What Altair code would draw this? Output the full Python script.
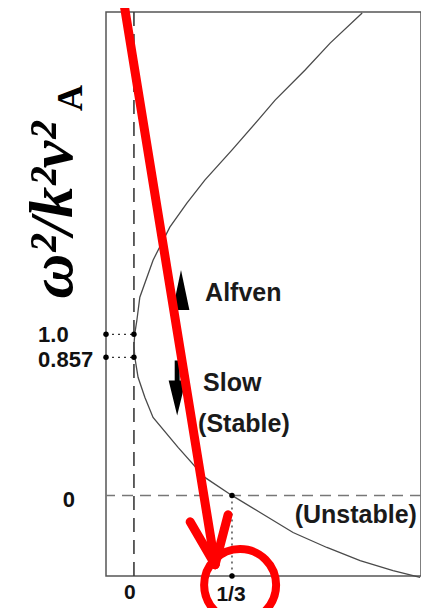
import altair as alt
import pandas as pd

# ---- data ----
curve_x = [0.776, 0.667, 0.582, 0.480, 0.422, 0.333, 0.241, 0.180, 0.122, 0.065,
           0.020, 0.010, 0.003, 0.000, 0.003, 0.014, 0.037, 0.065, 0.150, 0.241,
           0.333, 0.429, 0.541, 0.656, 0.769, 0.881, 0.973]
curve_y = [2.994, 2.807, 2.640, 2.453, 2.329, 2.143, 1.957, 1.814, 1.665, 1.460,
           1.230, 1.087, 1.006, 0.930, 0.857, 0.733, 0.609, 0.484, 0.298, 0.112,
           0.000, -0.106, -0.230, -0.323, -0.404, -0.466, -0.509]

x_domain = [-0.095, 0.976]
y_domain = [-0.5, 3.0]

marker_x = [-0.095, 0.0, -0.095, 0.0, 1 / 3, 1 / 3]
marker_y = [1.0, 1.0, 0.857, 0.857, 0.0, -0.5]

dotted_x = [-0.095, -0.095, 1 / 3]
dotted_x2 = [0.0, 0.0, 1 / 3]
dotted_y = [1.0, 0.857, 0.0]
dotted_y2 = [1.0, 0.857, -0.5]

ytick_text = ["1.0", "0.857", "0"]
ytick_x = [-0.326, -0.326, -0.221]
ytick_y = [1.0, 0.857, 0.0]
ytick_align = ["left", "left", "center"]
ytick_dy = [1, 3, 5]

xtick_text = ["0", "1/3"]
xtick_x = [0.0, 1 / 3]
xtick_dx = [-4, -1]
xtick_dy = [17, 19]

label_text = ["Alfven", "Slow", "(Stable)", "(Unstable)"]
label_x = [0.242, 0.235, 0.218, 0.962]
label_y = [1.256, 0.698, 0.443, -0.122]
label_align = ["left", "left", "left", "right"]

arrow_x = [0.160, 0.147]
arrow_y = [1.275, 0.667]
arrow_kind = ["up", "down"]

red_x = [-0.037, 0.191, 0.320]
red_y = [3.087, -0.164, -0.120]
red_tip_x = 0.276
red_tip_y = -0.43
circle_x = [0.361]
circle_y = [-0.556]

title_main = "ω²/k²v²"
title_sub = "A"

# ---- tables ----
curve = pd.DataFrame({"i": range(len(curve_x)), "x": curve_x, "y": curve_y})
markers = pd.DataFrame({"x": marker_x, "y": marker_y})
dotted = pd.DataFrame({"x": dotted_x, "x2": dotted_x2, "y": dotted_y, "y2": dotted_y2})
yticks = pd.DataFrame({"t": ytick_text, "x": ytick_x, "y": ytick_y,
                       "a": ytick_align, "dy": ytick_dy})
xticks = pd.DataFrame({"t": xtick_text, "x": xtick_x, "y": [y_domain[0]] * 2,
                       "dx": xtick_dx, "dy": xtick_dy})
labels = pd.DataFrame({"t": label_text, "x": label_x, "y": label_y, "a": label_align})
arrows = pd.DataFrame({"x": arrow_x, "y": arrow_y, "k": arrow_kind})
red = pd.DataFrame({"x": red_x, "y": red_y,
                    "x2": [red_tip_x] * 3, "y2": [red_tip_y] * 3})
circ = pd.DataFrame({"x": circle_x, "y": circle_y})
ttl = pd.DataFrame({"t": [title_main], "x": [-0.2105], "y": [1.77]})
sub = pd.DataFrame({"t": [title_sub], "x": [-0.175], "y": [2.467]})

X = alt.X("x:Q", scale=alt.Scale(domain=x_domain, nice=False, zero=False), axis=None)
Y = alt.Y("y:Q", scale=alt.Scale(domain=y_domain, nice=False, zero=False), axis=None)

zero_v = alt.Chart(pd.DataFrame({"x": [0.0]})).mark_rule(
    color="#3a3a3a", strokeWidth=1.6, strokeDash=[14, 8]).encode(x=X)
zero_h = alt.Chart(pd.DataFrame({"y": [0.0]})).mark_rule(
    color="#777777", strokeWidth=1.6, strokeDash=[11, 7]).encode(y=Y)

dots_lines = alt.Chart(dotted).mark_rule(
    color="#333333", strokeWidth=1.3, strokeDash=[2, 4]).encode(
    x=X, x2="x2:Q", y=Y, y2="y2:Q")

line = alt.Chart(curve).mark_line(color="#4a4a4a", strokeWidth=1.3).encode(
    x=X, y=Y, order="i:Q")

pts = alt.Chart(markers).mark_point(
    filled=True, color="black", size=30, opacity=1, shape="circle").encode(x=X, y=Y)

yt_layers = []
for _, r in yticks.iterrows():
    yt_layers.append(alt.Chart(pd.DataFrame([r])).mark_text(
        font="Liberation Sans", fontWeight="bold", fontSize=22, baseline="middle",
        align=r["a"], dy=int(r["dy"]), color="#111111").encode(x=X, y=Y, text="t:N"))

xt_layers = []
for _, r in xticks.iterrows():
    xt_layers.append(alt.Chart(pd.DataFrame([r])).mark_text(
        font="Liberation Sans", fontWeight="bold", fontSize=21, baseline="middle",
        align="center", dx=int(r["dx"]), dy=int(r["dy"]), color="#111111").encode(
        x=X, y=Y, text="t:N"))

lab_layers = []
for _, r in labels.iterrows():
    lab_layers.append(alt.Chart(pd.DataFrame([r])).mark_text(
        font="Liberation Sans", fontWeight="bold", fontSize=25, baseline="middle",
        align=r["a"], color="#1a1a1a").encode(x=X, y=Y, text="t:N"))

up = alt.Chart(arrows[arrows.k == "up"]).mark_point(
    shape="M0,-1L0.42,1L-0.42,1Z", size=1600, filled=True, color="black",
    opacity=1).encode(x=X, y=Y)
down = alt.Chart(arrows[arrows.k == "down"]).mark_point(
    shape="M-0.09,-1L0.09,-1L0.09,-0.27L0.31,-0.27L0,1L-0.31,-0.27L-0.09,-0.27Z",
    size=3025, filled=True, color="black", opacity=1).encode(x=X, y=Y)

title_t = alt.Chart(ttl).mark_text(
    font="Liberation Serif", fontStyle="italic", fontWeight="bold", fontSize=62,
    angle=270, align="center", baseline="alphabetic", color="black").encode(
    x=X, y=Y, text="t:N")
sub_t = alt.Chart(sub).mark_text(
    font="Liberation Serif", fontWeight="bold", fontSize=36,
    angle=270, align="center", baseline="alphabetic", color="black").encode(
    x=X, y=Y, text="t:N")

red_lines = alt.Chart(red).mark_rule(
    color="#ff0000", strokeWidth=9, strokeCap="round").encode(
    x=X, y=Y, x2="x2:Q", y2="y2:Q")
red_circle = alt.Chart(circ).mark_point(
    shape="circle", size=5184, filled=False, color="#ff0000", strokeWidth=8,
    opacity=1).encode(x=X, y=Y)

chart = alt.layer(
    zero_h, zero_v, dots_lines, line, pts, *yt_layers, *xt_layers, *lab_layers,
    up, down, title_t, sub_t, red_lines, red_circle
).properties(
    width=315, height=564,
    autosize=alt.AutoSizeParams(type="none"),
    padding={"left": 98, "top": 4, "right": 0, "bottom": 32},
    background="white",
).configure_view(stroke="#555555", strokeWidth=1.5)

chart.save("out.html", embed_options={"renderer": "svg", "actions": False})
